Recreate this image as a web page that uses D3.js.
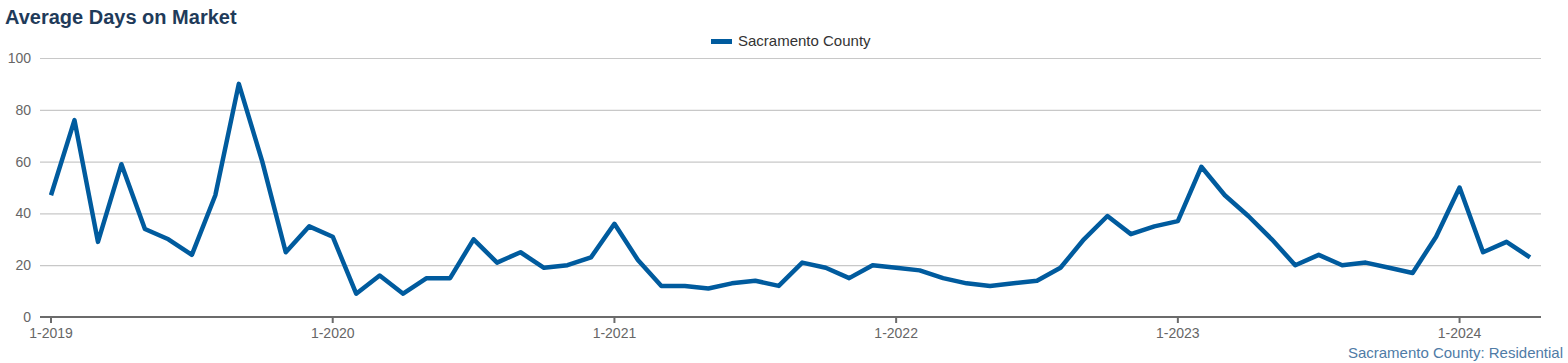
<!DOCTYPE html>
<html><head><meta charset="utf-8">
<script src="https://cdn.jsdelivr.net/npm/d3@7"></script>
<style>
body{margin:0;background:#fff;}
svg{font-family:"Liberation Sans",Arial,sans-serif;}
</style></head>
<body><svg id="c" width="1568" height="363"></svg>
<script>
const months = d3.range(64).map(i => `${(i%12)+1}-${2019+Math.floor(i/12)}`);
const values = [47,76,29,59,34,30,24,47,90,60,25,35,
  31,9,16,9,15,15,30,21,25,19,20,23,
  36,22,12,12,11,13,14,12,21,19,15,20,
  19,18,15,13,12,13,14,19,30,39,32,35,
  37,58,47,39,30,20,24,20,21,19,17,31,
  50,25,29,23];
const xTickLabels = ["1-2019","1-2020","1-2021","1-2022","1-2023","1-2024"];
const yTicks = [0,20,40,60,80,100];

const svg = d3.select("#c");
const x = d3.scaleLinear().domain([0, months.length-1]).range([51, 1530]);
const y = d3.scaleLinear().domain([0,100]).range([317, 58]);
const left = 40, right = 1541;

svg.append("text").attr("x",5).attr("y",24).attr("font-size",20).attr("font-weight","bold")
  .attr("fill","#1f3b5a").text("Average Days on Market");

// grid
svg.append("g").selectAll("line").data(yTicks.filter(d=>d>0)).join("line")
  .attr("x1",left).attr("x2",right).attr("y1",d=>y(d)+0.5).attr("y2",d=>y(d)+0.5)
  .attr("stroke","#c8c8c8").attr("stroke-width",1.2);

// y labels
svg.append("g").selectAll("text").data(yTicks).join("text")
  .attr("x",31).attr("y",d=>y(d)+5).attr("text-anchor","end").attr("font-size",14)
  .attr("fill","#666").text(d=>d);

// x axis
svg.append("line").attr("x1",left).attr("x2",right).attr("y1",317).attr("y2",317)
  .attr("stroke","#6b6b6b").attr("stroke-width",2);
const xt = xTickLabels.map(l => months.indexOf(l));
svg.append("g").selectAll("line").data(xt).join("line")
  .attr("x1",d=>x(d)).attr("x2",d=>x(d)).attr("y1",317).attr("y2",323)
  .attr("stroke","#6b6b6b").attr("stroke-width",2);
svg.append("g").selectAll("text").data(xt).join("text")
  .attr("x",d=>x(d)).attr("y",338).attr("text-anchor","middle").attr("font-size",14)
  .attr("fill","#666").text(d=>months[d]);

// line
svg.append("path").datum(values)
  .attr("d", d3.line().x((d,i)=>x(i)).y(d=>y(d)))
  .attr("fill","none").attr("stroke","#005b9e").attr("stroke-width",4.5)
  .attr("stroke-linejoin","round");

// legend
svg.append("rect").attr("x",711).attr("y",39).attr("width",21).attr("height",5).attr("fill","#005b9e");
svg.append("text").attr("x",738).attr("y",46).attr("font-size",15).attr("fill","#333").text("Sacramento County");

// footer
svg.append("text").attr("x",1563).attr("y",358).attr("text-anchor","end").attr("font-size",15)
  .attr("fill","#4f7ba6").text("Sacramento County: Residential");
</script></body></html>
